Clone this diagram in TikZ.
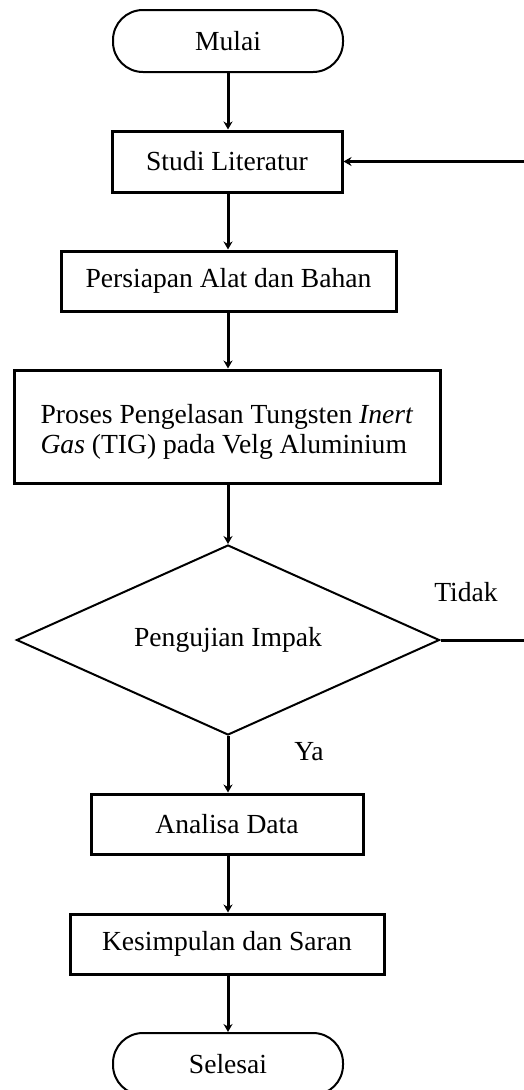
\documentclass[tikz,border=0pt]{standalone}
\usepackage{fontspec}
\setmainfont{Liberation Serif}
\usetikzlibrary{shapes.geometric,arrows.meta}
\begin{document}
\begin{tikzpicture}[x=1pt,y=-1pt,
  every node/.style={font=\fontsize{27.6}{30}\selectfont, inner sep=0pt},
  term/.style={draw, line width=2pt, rounded corners=30pt, minimum width=230pt, minimum height=62pt},
  proc/.style={draw, line width=3pt, minimum height=60pt},
  dec/.style={draw, line width=2pt, diamond, aspect=2.226, minimum width=423pt, minimum height=190pt},
  arr/.style={line width=3pt, -{Stealth[length=8pt,width=9pt]}},
  lbl/.style={}]
\useasboundingbox (0,0) rectangle (524,1090);
\clip (0,0) rectangle (524,1090);
\fill[white] (0,0) rectangle (524,1090);
\node[term] (mulai) at (228,41) {Mulai};
\node[proc, minimum width=230pt, minimum height=61pt] (studi) at (227,161.5) {Studi Literatur};
\node[proc, minimum width=335pt] (alat) at (228.5,281) {Persiapan Alat dan Bahan};
\node[proc, minimum width=426pt, minimum height=113pt, align=left] (proses) at (227,426.5) {\rule{0pt}{30pt}Proses Pengelasan Tungsten \textit{Inert}\\\textit{Gas} (TIG) pada Velg Aluminium};
\node[dec] (uji) at (228,640) {Pengujian Impak};
\node[proc, minimum width=272pt] (analisa) at (227,824) {Analisa Data};
\node[proc, minimum width=314pt] (simpul) at (227,944) {Kesimpulan dan Saran};
\node[term] (selesai) at (228,1064) {Selesai};
\node[lbl] (tidak) at (466,592) {Tidak};
\node[lbl] (ya) at (309,752) {Ya};
\coordinate (r1) at (545,640);
\coordinate (r2) at (545,161.5);
\draw[arr] (mulai.south -| 228,0) -- (studi.north -| 228,0);
\draw[arr] (studi.south -| 228,0) -- (alat.north -| 228,0);
\draw[arr] (alat.south -| 228,0) -- (proses.north -| 228,0);
\draw[arr] (proses.south -| 228,0) -- (uji.north);
\draw[arr] (uji.south) -- (analisa.north -| 228,0);
\draw[arr] (analisa.south -| 228,0) -- (simpul.north -| 228,0);
\draw[arr] (simpul.south -| 228,0) -- (selesai.north);
\draw[arr] (uji.east) -- (r1) -- (r2) -- (studi.east);
\end{tikzpicture}
\end{document}
